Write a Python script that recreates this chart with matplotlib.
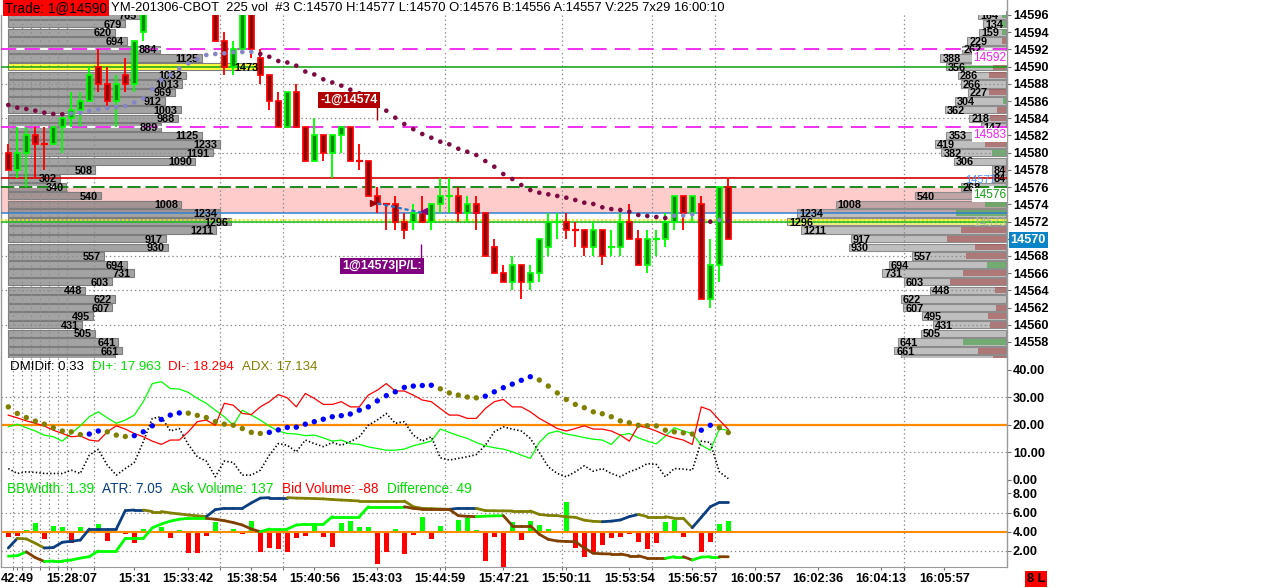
import matplotlib
matplotlib.use('Agg')
import matplotlib.pyplot as plt
from matplotlib import font_manager as fm
from matplotlib.collections import LineCollection
from matplotlib.patches import Rectangle
import numpy as np

plt.rcParams['font.family'] = ['Liberation Sans', 'DejaVu Sans']
plt.rcParams['lines.scale_dashes'] = False


def _has(name):
    try:
        fm.findfont(fm.FontProperties(family=name), fallback_to_default=False)
        return True
    except Exception:
        return False


NARROW_OK = _has('Liberation Sans Narrow')
AXF = ['Liberation Sans Narrow', 'Liberation Sans', 'DejaVu Sans'] if NARROW_OK else ['Liberation Sans', 'DejaVu Sans']
AX_FS = 10.6 if NARROW_OK else 9.2
PF_FS = 9.2 if NARROW_OK else 7.8

# ---------------------------------------------------------------- data
opens = [14580, 14578, 14580, 14582, 14581, 14581, 14583, 14584, 14585, 14586,
         14590, 14588, 14586, 14589, 14588, 14594, 14599, 14601, 14603, 14602,
         14605, 14603, 14601, 14599, 14593, 14590, 14592, 14598, 14591, 14589,
         14586, 14583, 14587, 14583, 14579, 14582, 14580, 14582, 14583, 14579,
         14579, 14575, 14574, 14574, 14572, 14572, 14573, 14572, 14574, 14575,
         14575, 14573, 14574, 14573, 14569, 14566, 14565, 14567, 14565, 14566,
         14569, 14572, 14572, 14571, 14571, 14569, 14571, 14569, 14569, 14572,
         14570, 14567, 14570, 14570, 14572, 14575, 14573, 14574, 14563, 14567,
         14576]
highs = [14581, 14583, 14583, 14583, 14583, 14583, 14584, 14587, 14587, 14590,
         14592, 14590, 14589, 14591, 14593, 14600, 14602, 14604, 14605, 14606,
         14606, 14604, 14602, 14600, 14594, 14593, 14599, 14599, 14592, 14589,
         14587, 14587, 14588, 14583, 14584, 14582, 14582, 14583, 14583, 14581,
         14579, 14576, 14574, 14575, 14573, 14574, 14575, 14574, 14577, 14577,
         14576, 14575, 14575, 14573, 14570, 14567, 14568, 14567, 14567, 14570,
         14573, 14573, 14573, 14572, 14571, 14572, 14571, 14571, 14573, 14574,
         14571, 14571, 14571, 14573, 14575, 14575, 14575, 14575, 14570, 14576,
         14577]
lows = [14578, 14577, 14576, 14577, 14578, 14581, 14580, 14583, 14583, 14586,
        14587, 14585, 14583, 14587, 14587, 14593, 14598, 14600, 14601, 14601,
        14602, 14600, 14598, 14593, 14589, 14589, 14592, 14591, 14588, 14585,
        14583, 14583, 14583, 14579, 14579, 14579, 14577, 14580, 14579, 14578,
        14575, 14573, 14571, 14571, 14570, 14571, 14572, 14571, 14573, 14573,
        14572, 14572, 14571, 14568, 14566, 14565, 14564, 14563, 14564, 14565,
        14568, 14570, 14570, 14569, 14568, 14568, 14567, 14568, 14568, 14570,
        14567, 14566, 14568, 14569, 14571, 14571, 14572, 14563, 14562, 14565,
        14570]
closes = [14578, 14580, 14582, 14581, 14581, 14583, 14584, 14585, 14586, 14589,
          14588, 14586, 14588, 14588, 14593, 14599, 14601, 14603, 14602, 14605,
          14603, 14601, 14599, 14593, 14590, 14592, 14598, 14592, 14589, 14586,
          14583, 14587, 14583, 14579, 14582, 14580, 14582, 14583, 14579, 14579,
          14575, 14574, 14574, 14572, 14571, 14573, 14572, 14574, 14575, 14575,
          14573, 14574, 14573, 14568, 14566, 14565, 14567, 14565, 14566, 14570,
          14572, 14572, 14571, 14571, 14569, 14571, 14568, 14569, 14572, 14570,
          14567, 14570, 14570, 14572, 14575, 14573, 14575, 14563, 14567, 14576,
          14570]
doji_up_bars = [49, 61, 67, 72]

ma_dots = [14585.54, 14585.23, 14585.08, 14584.88, 14584.65, 14584.50, 14584.47, 14584.55, 14584.65, 14584.88,
           14585.04, 14585.19, 14585.31, 14585.42, 14585.83, 14586.30, 14587.37, 14588.45, 14589.03, 14589.81,
           14590.39, 14590.85, 14591.35, 14591.47, 14591.55, 14591.67, 14591.70, 14591.72, 14591.47, 14591.15,
           14590.65, 14590.48, 14590.11, 14589.43, 14589.09, 14588.53, 14588.16, 14587.79, 14587.32, 14586.90,
           14586.39, 14585.43, 14584.88, 14584.07, 14583.33, 14582.73, 14582.17, 14581.74, 14581.28, 14580.97,
           14580.46, 14580.11, 14579.73, 14579.03, 14578.37, 14577.52, 14576.94, 14576.24, 14575.66, 14575.35,
           14575.16, 14574.97, 14574.77, 14574.50, 14574.19, 14574.04, 14573.65, 14573.45, 14573.34, 14573.14,
           14572.76, 14572.64, 14572.53, 14572.41, 14572.68, 14572.70, 14572.84, 14572.18, 14571.98, 14572.18,
           14572.10]

prof_prices = list(range(14596, 14555, -1))
left_vol = [765, 679, 620, 694, 884, 1125, 1473, 1032, 1013, 969, 912, 1003, 988, 889,
            1125, 1233, 1191, 1090, 508, 302, 340, 540, 1008, 1234, 1296, 1211, 917, 930,
            557, 694, 731, 603, 448, 622, 607, 495, 431, 505, 641, 661, 620]
right_vol = [164, 134, 159, 229, 262, 388, 356, 286, 266, 227, 304, 362, 218, 147,
             353, 419, 382, 306, 84, 84, 268, 540, 1008, 1234, 1296, 1211, 917, 930,
             557, 694, 731, 603, 448, 622, 607, 495, 431, 505, 641, 661, 620]
right_delta = [24, 30, 24, -24, 0, 0, -75, -99, 0, -99, 18, -51, -95, 0,
               0, -124, 85, 0, -20, 0, 0, 0, 122, 296, 0, -266, -349, -183,
               -237, 111, -254, -331, -65, 0, -59, -107, -95, 0, 254, -166, -77]

ref_lines = {'entry': 14590, 'high': 14577, 'open': 14576, 'fill': 14573, 'poc': 14572}
magenta_levels = [14592, 14583]
zone = (14573, 14576)
sell_exec = (41, 14574)
buy_exec = (46, 14573)
last_price = 14570

di_plus = [19.2, 20.2, 18.9, 17.7, 16.2, 15.6, 14.0, 16.8, 19.6, 22.9,
           24.7, 22.5, 20.5, 21.7, 23.5, 28.4, 35.0, 35.7, 33.2, 33.0,
           31.8, 29.6, 27.8, 25.3, 22.9, 19.8, 25.3, 23.5, 21.7, 19.5,
           17.7, 16.8, 16.6, 16.0, 16.2, 15.2, 14.0, 14.4, 13.1, 12.8,
           11.9, 11.3, 10.7, 10.7, 11.1, 12.3, 13.1, 14.0, 18.4, 17.2,
           16.0, 15.0, 13.5, 12.3, 11.6, 11.1, 10.1, 8.9, 7.7, 13.5,
           16.8, 17.7, 16.6, 16.0, 15.3, 14.7, 14.4, 12.8, 16.2, 16.8,
           15.2, 14.0, 13.0, 15.8, 18.9, 17.7, 16.8, 12.5, 10.7, 18.4,
           17.963]
di_minus = [23.5, 22.5, 21.4, 20.5, 19.5, 18.0, 16.8, 15.6, 15.9, 14.4,
            14.0, 17.4, 19.6, 18.4, 16.8, 15.6, 14.0, 12.8, 14.4, 14.4,
            17.4, 21.1, 21.7, 19.8, 27.8, 27.1, 24.1, 23.7, 26.5, 28.4,
            31.0, 29.8, 26.5, 31.4, 29.6, 27.4, 27.4, 28.4, 26.5, 26.5,
            30.8, 32.6, 35.0, 32.3, 32.3, 30.8, 29.0, 28.4, 25.9, 23.5,
            23.5, 22.3, 22.3, 25.9, 28.4, 29.2, 26.5, 26.5, 24.7, 22.3,
            20.5, 18.6, 17.7, 18.6, 19.6, 18.4, 18.4, 17.7, 16.2, 14.0,
            19.6, 18.9, 17.7, 16.2, 15.2, 14.4, 12.8, 26.5, 25.3, 21.7,
            18.294]
adx = [26.5, 24.1, 22.6, 21.3, 20.2, 18.9, 17.7, 17.4, 16.4, 16.6,
       17.7, 17.4, 16.2, 15.7, 16.0, 17.4, 19.6, 21.9, 23.5, 24.3,
       24.2, 23.4, 22.6, 21.1, 20.2, 19.8, 18.6, 17.2, 16.8, 17.2,
       18.1, 19.0, 19.1, 20.2, 21.1, 22.0, 22.9, 23.3, 23.9, 25.3,
       26.5, 28.7, 30.6, 32.0, 33.6, 34.1, 34.3, 34.4, 33.1, 31.6,
       30.8, 30.1, 29.8, 30.4, 32.0, 33.5, 34.8, 36.2, 37.5, 36.3,
       34.1, 31.6, 29.2, 27.4, 26.2, 24.7, 24.0, 22.9, 21.4, 20.7,
       19.8, 19.6, 19.55, 18.0, 17.4, 17.0, 16.6, 18.0, 19.8, 18.9,
       17.134]
dmi_dif = [4.0, 2.2, 2.8, 2.6, 2.2, 2.2, 2.2, 3.4, 2.2, 8.9,
           11.0, 5.2, 1.6, 4.0, 6.2, 13.8, 22.3, 22.9, 17.7, 18.6,
           12.8, 8.3, 6.7, 1.0, 6.7, 6.2, 1.6, 1.6, 3.4, 8.9,
           13.1, 12.5, 10.1, 14.4, 13.1, 12.0, 13.5, 12.5, 13.8, 15.6,
           19.8, 21.7, 24.1, 20.5, 21.1, 16.2, 14.0, 15.6, 7.9, 7.1,
           7.7, 8.3, 9.1, 12.5, 17.4, 19.2, 18.4, 17.7, 15.0, 9.9,
           4.6, 2.2, 1.0, 2.8, 5.0, 3.0, 4.0, 2.2, 1.0, 2.8,
           4.0, 5.8, 5.5, 1.0, 4.0, 3.8, 3.4, 14.0, 13.5, 2.8,
           0.33]

atr = [2.3, 3.3, 3.25, 2.8, 2.3, 2.35, 2.9, 3.0, 3.13, 4.28,
       4.28, 4.28, 4.28, 6.2, 6.26, 6.26, 6.1, 6.1, 5.95, 5.85,
       5.74, 5.65, 5.57, 6.3, 6.43, 6.43, 6.43, 7.0, 7.5, 7.55,
       7.55, 7.55, 7.5, 7.48, 7.45, 7.42, 7.35, 7.3, 7.25, 7.2,
       7.2, 7.2, 7.2, 7.2, 7.2, 6.6, 6.43, 6.4, 6.36, 6.33,
       6.43, 6.43, 6.43, 6.2, 6.18, 6.17, 6.16, 6.16, 6.16, 5.8,
       5.7, 5.67, 5.55, 5.5, 5.2, 5.08, 5.04, 5.1, 5.22, 5.57,
       5.8, 5.57, 5.57, 5.57, 5.4, 5.4, 4.42, 5.5, 6.6, 7.05,
       7.05]
bb_width = [1.45, 1.5, 1.9, 1.3, 0.9, 0.95, 0.95, 1.05, 1.25, 1.4,
            2.0, 2.0, 2.0, 3.3, 3.3, 3.3, 4.4, 4.8, 5.1, 5.3,
            5.39, 5.39, 5.39, 5.3, 5.15, 4.95, 4.7, 4.28, 4.0, 4.28,
            4.28, 4.28, 4.7, 4.77, 4.77, 4.77, 5.57, 5.57, 5.57, 5.57,
            6.6, 6.6, 6.6, 6.6, 6.6, 6.43, 6.33, 6.33, 6.33, 6.33,
            5.67, 5.6, 5.57, 5.62, 5.65, 5.67, 4.63, 4.63, 4.63, 3.73,
            3.2, 3.03, 2.98, 2.96, 2.3, 1.75, 1.7, 1.68, 1.68, 1.5,
            1.5, 1.23, 1.23, 1.23, 1.4, 1.4, 1.05, 1.35, 1.4, 1.4,
            1.39]
vol_diff = [-23, -22, 8, 39, -36, 28, 20, -54, 20, 11,
            34, -44, -2, -13, -54, 13, 5, 23, -28, 8,
            -99, -99, -20, 47, -5, 13, -11, 50, -94, -78,
            -81, -94, -28, -19, 39, -23, -70, 39, 50, 23,
            20, -153, -97, 11, -104, -16, 70, -36, 27, -3,
            55, 66, 8, -138, -23, -180, 47, -39, 50, 31,
            13, -3, 141, -75, -117, -104, -63, -28, -23, -13,
            -47, -81, -54, 47, 54, -23, -5, -94, -47, 36,
            49]
ask_volume = 137
bid_volume = -88

time_labels = ['42:49', '15:28:07', '15:31', '15:33:42', '15:38:54', '15:40:56', '15:43:03',
               '15:44:59', '15:47:21', '15:50:11', '15:53:54', '15:56:57', '16:00:57',
               '16:02:36', '16:04:13', '16:05:57']
time_label_bars = [1, 7, 14, 20, 27, 34, 41, 48, 55, 62, 69, 76, 83, 90, 97, 104]
grid_bars = [0.5, 1.5, 2.5, 3.5, 4.5, 5.5, 6.5, 9.5, 23.5, 30.5, 48.5, 61.5, 71.5, 78.5, 99.5]

header = 'YM-201306-CBOT  225 vol  #3 C:14570 H:14577 L:14570 O:14576 B:14556 A:14557 V:225 7x29 16:00:10'
trade_text = 'Trade: 1@14590'

# ---------------------------------------------------------------- layout
W, H = 1276, 588
fig = plt.figure(figsize=(W / 100, H / 100), dpi=100)
fig.patch.set_facecolor('white')
L_PX, R_PX = 1.0, 1006.7
BAR0_PX, BAR_PX = 8.3, 9.0


def rect(top, bot):
    return [L_PX / W, 1 - bot / H, (R_PX - L_PX) / W, (bot - top) / H]


ax1 = fig.add_axes(rect(0, 358))
ax2 = fig.add_axes(rect(358, 480))
ax3 = fig.add_axes(rect(480, 567))
XLIM = ((L_PX - BAR0_PX) / BAR_PX, (R_PX - BAR0_PX) / BAR_PX)
PPX = 8.605
ax1.set_ylim(14596 - (358 - 15) / PPX, 14596 + 15 / PPX)
ax2.set_ylim(-(480 - 479.5) / 2.74, (479.5 - 358) / 2.74)
ax3.set_ylim(4 - (567 - 531.7) / 9.6, 4 + (531.7 - 480) / 9.6)

GRID_KW = dict(color='#8a8a8a', lw=0.9, ls=(0, (1, 2)), zorder=1.6)
for ax in (ax1, ax2, ax3):
    ax.set_xlim(*XLIM)
    ax.set_facecolor('white')
    for s in ('top', 'bottom'):
        ax.spines[s].set_visible(False)
    for s in ('left', 'right'):
        ax.spines[s].set_color('#9a9a9a')
        ax.spines[s].set_linewidth(1.0)
    ax.yaxis.tick_right()
    ax.tick_params(axis='y', direction='out', length=3.2, width=0.8, color='#707070',
                   pad=1.2, labelsize=AX_FS)
    ax.tick_params(axis='x', which='both', bottom=False, labelbottom=False)
    for g in grid_bars:
        ax.axvline(g, **GRID_KW)

ax1.set_yticks(list(range(14558, 14597, 2)))
ax1.set_yticklabels([str(v) for v in range(14558, 14597, 2)])
ax2.set_yticks([0, 10, 20, 30, 40])
ax2.set_yticklabels([f'{v:.2f}' for v in [0, 10, 20, 30, 40]])
ax3.set_yticks([2, 4, 6, 8])
ax3.set_yticklabels([f'{v:.2f}' for v in [2, 4, 6, 8]])
for ax in (ax1, ax2, ax3):
    for lbl in ax.get_yticklabels():
        lbl.set_fontfamily(AXF)
        lbl.set_fontweight('bold')

ax3.spines['bottom'].set_visible(True)
ax3.spines['bottom'].set_color('#9a9a9a')
ax3.set_xticks(time_label_bars)
ax3.set_xticklabels(time_labels)
ax3.set_xticks(grid_bars, minor=True)
ax3.tick_params(axis='x', which='both', bottom=True, labelbottom=True, length=2.5,
                width=0.8, color='#707070', pad=1.5, labelsize=AX_FS)
ax3.tick_params(axis='x', which='minor', labelbottom=False)
for lbl in ax3.get_xticklabels():
    lbl.set_fontfamily(AXF)
    lbl.set_fontweight('bold')

# ---------------------------------------------------------------- main panel
idx = np.arange(len(opens))
prices = np.array(prof_prices)

ax1.axhspan(zone[0], zone[1], color='#ffcccc', lw=0, zorder=0.5)
for p in range(14560, 14593, 4):
    ax1.axhline(p, **GRID_KW)

# left volume profile
LP_X0 = (8.0 - BAR0_PX) / BAR_PX
LP_SCALE = 0.172 / BAR_PX
lv = np.array(left_vol)
lwid = lv * LP_SCALE
lpoc = prices[np.argmax(lv)]
lcols = ['#ffff3c' if p == lpoc else (0.47, 0.47, 0.47, 0.68) for p in prices]
ax1.barh(prices, lwid, left=LP_X0, height=0.86, color=lcols, edgecolor='#7d7d7d',
         linewidth=0.8, zorder=1.2)
for p, v, w in zip(prices, lv, lwid):
    ax1.annotate(str(v), xy=(LP_X0 + w, p), xytext=(-3, 0), textcoords='offset pixels',
                 ha='right', va='center_baseline', fontsize=PF_FS, fontweight='bold',
                 family=AXF, color='black', zorder=4.5, annotation_clip=True)

# right volume profile
RP_X1 = (1006.0 - BAR0_PX) / BAR_PX
RP_SCALE = 0.169 / BAR_PX
rv = np.array(right_vol)
rwid = rv * RP_SCALE
rpoc = prices[np.argmax(rv)]
rcols = ['#f3f37c' if p == rpoc else (0.5, 0.5, 0.5, 0.5) for p in prices]
ax1.barh(prices, rwid, left=RP_X1 - rwid, height=0.86, color=rcols, edgecolor='#8c8c8c',
         linewidth=0.8, zorder=1.2)
rd = np.array(right_delta)
dwid = np.abs(rd) * RP_SCALE
dcols = [(0.35, 0.65, 0.35, 0.75) if d > 0 else (0.65, 0.3, 0.3, 0.62) for d in rd]
ax1.barh(prices, dwid, left=RP_X1 - dwid, height=0.7, color=dcols, lw=0, zorder=1.3)
for p, v, w in zip(prices, rv, rwid):
    ax1.annotate(str(v), xy=(RP_X1 - w, p), xytext=(2, 0), textcoords='offset pixels',
                 ha='left', va='center_baseline', fontsize=PF_FS, fontweight='bold',
                 family=AXF, color='black', zorder=4.5, annotation_clip=True)

# reference lines
for lvl in magenta_levels:
    ax1.axhline(lvl, color='white', lw=1.3, zorder=2.5)
    ax1.axhline(lvl, color='#f020f0', lw=1.3, ls=(0, (11, 6)), zorder=2.6)
ax1.axhline(ref_lines['entry'], color='#10a010', lw=1.1, zorder=2.6)
ax1.axhline(ref_lines['high'], color='#d40000', lw=1.2, zorder=2.6)
ax1.axhline(ref_lines['open'], color='white', lw=1.3, zorder=2.5)
ax1.axhline(ref_lines['open'], color='#0a800a', lw=1.3, ls=(0, (9.5, 3.5)), zorder=2.6)
ax1.axhline(ref_lines['fill'], color='#2f80d0', lw=1.1, zorder=2.6)
ax1.axhline(ref_lines['poc'] + 0.15, color='#e6e600', lw=1.2, ls=(0, (1.5, 1.5)), zorder=2.6)
ax1.axhline(ref_lines['poc'] - 0.05, color='#1cbc1c', lw=1.1, zorder=2.6)

# candles
o = np.array(opens); h = np.array(highs); l = np.array(lows); c = np.array(closes)
up = (c > o) | ((c == o) & np.isin(idx, doji_up_bars))
wick_cols = np.where(up, '#00ff00', '#ff0000')
body_cols = np.where(up, '#008a00', '#8b0000')
ax1.vlines(idx, l, h, colors=wick_cols, lw=1.35, zorder=3)
body = c != o
ax1.bar(idx[body], np.abs(c - o)[body], bottom=np.minimum(o, c)[body], width=0.6,
        color=body_cols[body], edgecolor=wick_cols[body], linewidth=1.25, zorder=3.1)
ax1.hlines(o[~body], idx[~body] - 0.36, idx[~body] + 0.36, colors=wick_cols[~body],
           lw=1.6, zorder=3.1)


def slope_colors(vals, up_col, dn_col, first):
    cols = [first]
    for a, b in zip(vals[:-1], vals[1:]):
        cols.append(up_col if b > a else (dn_col if b < a else cols[-1]))
    return cols


ma_cols = slope_colors(ma_dots, '#8585c8', '#7d0a42', '#7d0a42')
ax1.scatter(idx, ma_dots, s=11, c=ma_cols, linewidths=0, zorder=5)

# executions
ax1.plot([sell_exec[0], buy_exec[0] + 0.1], [sell_exec[1] + 0.1, buy_exec[1]], color='#1e78c8',
         lw=1.6, ls=(0, (3, 2)), zorder=5.2)
ax1.plot(sell_exec[0] - 0.45, sell_exec[1] + 0.2, marker='>', ms=5, color='#a00000', zorder=5.3)
ax1.plot(buy_exec[0] + 0.2, buy_exec[1] + 0.2, marker='<', ms=5, color='#800080', zorder=5.3)
ax1.vlines(sell_exec[0], 14583.8, 14585.4, color='#a00000', lw=1.0, zorder=5.2)
ax1.text(sell_exec[0] + 0.05, 14586.15, '-1@' + str(sell_exec[1]), ha='right', va='center',
         fontsize=8.8, fontweight='bold', color='white', zorder=6,
         bbox=dict(facecolor='#b00000', edgecolor='none', boxstyle='square,pad=0.18'))
ax1.vlines(buy_exec[0] - 0.15, 14567.7, 14569.4, color='#800080', lw=1.0, zorder=5.2)
ax1.text(buy_exec[0] - 0.1, 14566.8, '1@' + str(buy_exec[1]) + '|P/L:', ha='right', va='center',
         fontsize=8.8, fontweight='bold', color='white', zorder=6,
         bbox=dict(facecolor='#800080', edgecolor='none', boxstyle='square,pad=0.18'))

# right edge price tags inside plot
tag_kw = dict(xycoords=('axes fraction', 'data'), textcoords='offset pixels', ha='right',
              va='top', fontsize=8.6, zorder=6, annotation_clip=False)
for lvl in magenta_levels:
    ax1.annotate(str(lvl), xy=(1, lvl - 0.15), xytext=(-1, -1), color='#f020f0',
                 bbox=dict(facecolor='white', edgecolor='none', pad=0.6), **tag_kw)
ax1.annotate(str(ref_lines['open']), xy=(1, ref_lines['open'] - 0.1), xytext=(-1, -1),
             color='#10a010', bbox=dict(facecolor='white', edgecolor='none', pad=0.6), **tag_kw)
ax1.annotate(str(ref_lines['high']), xy=(1, ref_lines['high'] + 0.35), xytext=(-11, 0),
             color='#4d94ff', fontsize=8.0, xycoords=('axes fraction', 'data'),
             textcoords='offset pixels', ha='right', va='top', zorder=4.4,
             annotation_clip=False)
ax1.annotate(str(ref_lines['fill']), xy=(1, ref_lines['poc'] + 0.55), xytext=(-1, 0),
             color='#a8b8a0', **tag_kw)
ax1.annotate(str(last_price), xy=(1, last_price), xycoords=('axes fraction', 'data'),
             xytext=(4, 0), textcoords='offset pixels', ha='left', va='center_baseline',
             fontsize=AX_FS, fontweight='bold', family=AXF, color='white', zorder=6,
             annotation_clip=False,
             bbox=dict(facecolor='#0a84c6', edgecolor='none', boxstyle='square,pad=0.15'))

ax1.set_xticks([])

# ---------------------------------------------------------------- DMI panel
ax2.axhline(10, **GRID_KW)
ax2.axhline(30, **GRID_KW)
ax2.axhline(20, color='#ff8c00', lw=1.6, zorder=2)
ax2.plot(idx, di_plus, color='#00ff00', lw=0.9, zorder=3)
ax2.plot(idx, di_minus, color='#ff0000', lw=0.9, zorder=3)
ax2.plot(idx, dmi_dif, color='black', lw=1.2, ls=(0, (1, 1.6)), zorder=3)
adx_cols = slope_colors(adx, '#0000ff', '#808000', '#808000')
ax2.scatter(idx, adx, s=15, c=adx_cols, linewidths=0, zorder=4)

# ---------------------------------------------------------------- volume / ATR panel
DIFF_PER_UNIT = 45.0
ax3.axhline(2, **GRID_KW)
ax3.axhline(6, **GRID_KW)
vd = np.array(vol_diff) / DIFF_PER_UNIT
ax3.bar(idx, vd, bottom=4, width=0.55, color=np.where(vd > 0, '#00ff00', '#ff0000'),
        lw=0, zorder=2)
ax3.axhline(4, color='#ff8c00', lw=1.5, zorder=2.5)


def colored_line(ax, vals, up_col, dn_col, first, lw):
    cols = slope_colors(vals, up_col, dn_col, first)
    segs = [[(i - 1, vals[i - 1]), (i, vals[i])] for i in range(1, len(vals))]
    ax.add_collection(LineCollection(segs, colors=cols[1:], linewidths=lw, zorder=3,
                                     capstyle='round'))


colored_line(ax3, atr, '#0c3f80', '#808000', '#0c3f80', 2.0)
colored_line(ax3, bb_width, '#00ff00', '#804000', '#00ff00', 2.0)

# ---------------------------------------------------------------- header & legends
fig.add_artist(Rectangle((0, 1 - 15 / H), 1006 / W, 15 / H, transform=fig.transFigure,
                         facecolor='white', edgecolor='none', zorder=5))
fig.text(5 / W, 1 - 7.8 / H, trade_text, fontsize=9.8, va='center', ha='left', color='black',
         zorder=6, bbox=dict(facecolor='#ff0000', edgecolor='none', boxstyle='square,pad=0.12'))
fig.text(111 / W, 1 - 7.8 / H, header, fontsize=9.4, va='center', ha='left', color='black',
         zorder=6)


def chain_text(ax, x_px, y_px, parts, fs, gap_pt):
    t = fig.text(x_px / W, 1 - y_px / H, parts[0][0], color=parts[0][1], fontsize=fs,
                 va='center', ha='left', zorder=6)
    prev = t
    for s, col in parts[1:]:
        prev = ax.annotate(s, xy=(1, 0.5), xycoords=prev, xytext=(gap_pt, 0),
                           textcoords='offset points', color=col, fontsize=fs,
                           va='center', ha='left', zorder=6)


chain_text(ax2, 10, 367, [('DMIDif: %.2f' % dmi_dif[-1], 'black'),
                          ('DI+: %.3f' % di_plus[-1], '#00e000'),
                          ('DI-: %.3f' % di_minus[-1], '#ff0000'),
                          ('ADX: %.3f' % adx[-1], '#808000')], 9.5, 5.5)
chain_text(ax3, 7, 489, [('BBWidth: %.2f' % bb_width[-1], '#00e000'),
                         ('ATR: %.2f' % atr[-1], '#0c3f80'),
                         ('Ask Volume: %d' % ask_volume, '#00e000'),
                         ('Bid Volume: %d' % bid_volume, '#ff0000'),
                         ('Difference: %d' % vol_diff[-1], '#00e000')], 9.8, 6.0)

fig.text(1027 / W, 1 - 579 / H, '8 L', fontsize=AX_FS, family=AXF, fontweight='bold',
         color='black', va='center', ha='left', zorder=6,
         bbox=dict(facecolor='#ff0000', edgecolor='none', boxstyle='square,pad=0.15'))

fig.savefig('out.png', dpi=100, facecolor='white')
